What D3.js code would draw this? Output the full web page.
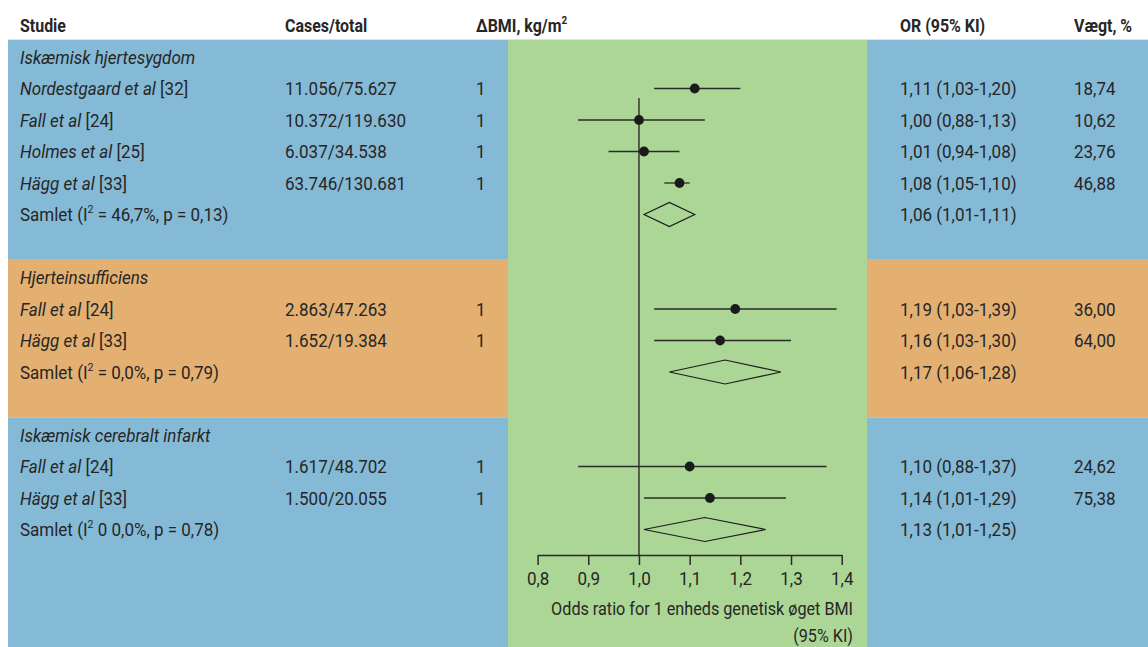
<!DOCTYPE html>
<html><head><meta charset="utf-8">
<script src="https://cdn.jsdelivr.net/npm/d3@7"></script>
<style>
html,body{margin:0;padding:0;background:#fff;}
svg{display:block;}
text{font-family:Roboto,"Noto Sans",sans-serif;fill:#262626;}
</style></head>
<body>
<svg id="c" width="1148" height="647"></svg>
<script>
// ---------- data ----------
const headers = ["Studie","Cases/total","\u0394BMI, kg/m","OR (95% KI)","Vægt, %"];
const groupLabels = ["Iskæmisk hjertesygdom","Hjerteinsufficiens","Iskæmisk cerebralt infarkt"];
const studyAuthors = ["Nordestgaard et al","Fall et al","Holmes et al","Hägg et al","Fall et al","Hägg et al","Fall et al","Hägg et al"];
const studyRefs = ["[32]","[24]","[25]","[33]","[24]","[33]","[24]","[33]"];
const studyGroup = [0,0,0,0,1,1,2,2];
const cases = ["11.056/75.627","10.372/119.630","6.037/34.538","63.746/130.681","2.863/47.263","1.652/19.384","1.617/48.702","1.500/20.055"];
const deltaBMI = [1,1,1,1,1,1,1,1];
const orEst = [1.11,1.00,1.01,1.08,1.19,1.16,1.10,1.14];
const ciLow = [1.03,0.88,0.94,1.05,1.03,1.03,0.88,1.01];
const ciHigh = [1.20,1.13,1.08,1.10,1.39,1.30,1.37,1.29];
const weights = [18.74,10.62,23.76,46.88,36.00,64.00,24.62,75.38];
const pooledI2Text = [" = 46,7%"," = 0,0%"," 0 0,0%"];
const pooledP = ["0,13","0,79","0,78"];
const pooledEst = [1.06,1.17,1.13];
const pooledLow = [1.01,1.06,1.01];
const pooledHigh = [1.11,1.28,1.25];
const xTicks = [0.8,0.9,1.0,1.1,1.2,1.3,1.4];
const axisTitle = ["Odds ratio for 1 enheds genetisk øget BMI","(95% KI)"];

// ---------- layout ----------
const W = 1148, H = 647;
const FS = 19, SX = 0.895;      // body text
const HFS = 19, HSX = 0.84;     // header text
const colX = {study:20, cases:285, bmi:476, or:900, w:1074};
const panelLeft = 8, panelTop = 39.5;
const greenL = 508, greenR = 867;
const axisY = 555, refTop = 98;
const colors = {blue:"#85bad7", orange:"#e3b072", green:"#acd695", ink:"#262626"};

const loc = d3.formatLocale({decimal:",", thousands:".", grouping:[3], currency:["",""]});
const f2 = loc.format(".2f"), f1 = loc.format(".1f");

const rowY = d3.scaleLinear().domain([0,1]).range([57,88.5]);
const x = d3.scaleLinear().domain([0.8,1.4]).range([537.6,841.7]);

// row assignment
const groupStart = [], pooledRow = [], studyRow = [];
let r = 0;
groupLabels.forEach((g,gi)=>{
  groupStart[gi] = r; r++;
  studyGroup.forEach((sg,si)=>{ if(sg===gi){ studyRow[si]=r; r++; } });
  pooledRow[gi] = r; r += 2;
});

const svg = d3.select("#c");

// backgrounds
const bands = groupLabels.map((g,gi)=>({
  y0: gi===0 ? panelTop : rowY(groupStart[gi]-0.56),
  y1: gi===groupLabels.length-1 ? H : rowY(groupStart[gi+1]-0.56),
  c: gi===1 ? colors.orange : colors.blue
}));
svg.selectAll("rect.band").data(bands).join("rect").attr("class","band")
  .attr("x",panelLeft).attr("y",d=>d.y0).attr("width",W-panelLeft).attr("height",d=>d.y1-d.y0)
  .attr("fill",d=>d.c);
svg.append("rect").attr("x",greenL).attr("y",panelTop).attr("width",greenR-greenL).attr("height",H-panelTop)
  .attr("fill",colors.green);
svg.append("line").attr("x1",panelLeft).attr("x2",W).attr("y1",panelTop).attr("y2",panelTop)
  .attr("stroke","#d4e2ea").attr("stroke-width",1);

// text helper
function txt(px, py, opts={}){
  const fs = opts.fs||FS, sx = opts.sx||SX;
  const t = svg.append("text")
    .attr("transform",`translate(${px},${py}) scale(${sx},1)`)
    .attr("dy","0.36em")
    .style("font-size",fs+"px")
    .attr("text-anchor",opts.anchor||"start");
  if(opts.bold) t.style("font-weight","700");
  if(opts.italic) t.style("font-style","italic");
  t.node().__fs = fs;
  return t;
}
// superscript; returns the vertical offset to restore on the next tspan
function sup(t, s){
  const fs = t.node().__fs, up = 0.42*fs;
  t.append("tspan").attr("dy",-up).style("font-size",(0.62*fs)+"px").text(s);
  return up;
}

// headers
const hy = 25;
const H_ = {bold:true, fs:HFS, sx:HSX};
txt(colX.study,hy,H_).text(headers[0]);
txt(colX.cases,hy,H_).text(headers[1]);
{ const t = txt(colX.bmi,hy,H_); t.append("tspan").text(headers[2]); sup(t,"2"); }
txt(colX.or,hy,H_).text(headers[3]);
txt(colX.w,hy,H_).text(headers[4]);

// group headings
groupLabels.forEach((g,gi)=>{ txt(colX.study,rowY(groupStart[gi]),{italic:true}).text(g); });

// study rows
studyAuthors.forEach((a,i)=>{
  const y = rowY(studyRow[i]);
  const t = txt(colX.study,y);
  t.append("tspan").style("font-style","italic").text(a);
  t.append("tspan").text(" "+studyRefs[i]);
  txt(colX.cases,y).text(cases[i]);
  txt(colX.bmi,y).text(deltaBMI[i]);
  txt(colX.or,y).text(`${f2(orEst[i])} (${f2(ciLow[i])}-${f2(ciHigh[i])})`);
  txt(colX.w,y).text(f2(weights[i]));
});

// pooled rows
groupLabels.forEach((g,gi)=>{
  const y = rowY(pooledRow[gi]);
  const t = txt(colX.study,y);
  t.append("tspan").text("Samlet (I");
  const up = sup(t,"2");
  t.append("tspan").attr("dy",up).text(`${pooledI2Text[gi]}, p = ${pooledP[gi]})`);
  txt(colX.or,y).text(`${f2(pooledEst[gi])} (${f2(pooledLow[gi])}-${f2(pooledHigh[gi])})`);
});

// reference line at OR = 1
svg.append("line").attr("x1",x(1)).attr("x2",x(1)).attr("y1",refTop).attr("y2",axisY)
  .attr("stroke","#3b4436").attr("stroke-width",1.6);

// CIs + points
const studies = orEst.map((e,i)=>({e,lo:ciLow[i],hi:ciHigh[i],y:rowY(studyRow[i])}));
svg.selectAll("line.ci").data(studies).join("line").attr("class","ci")
  .attr("x1",d=>x(d.lo)).attr("x2",d=>x(d.hi)).attr("y1",d=>d.y).attr("y2",d=>d.y)
  .attr("stroke","#2a2a2a").attr("stroke-width",1.3);
svg.selectAll("circle.pt").data(studies).join("circle").attr("class","pt")
  .attr("cx",d=>x(d.e)).attr("cy",d=>d.y).attr("r",4.9).attr("fill","#1b1b1b");

// diamonds
const pooled = pooledEst.map((e,i)=>({e,lo:pooledLow[i],hi:pooledHigh[i],y:rowY(pooledRow[i])}));
const dh = 12;
svg.selectAll("path.dia").data(pooled).join("path").attr("class","dia")
  .attr("d",d=>`M${x(d.lo)},${d.y}L${x(d.e)},${d.y-dh}L${x(d.hi)},${d.y}L${x(d.e)},${d.y+dh}Z`)
  .attr("fill","none").attr("stroke","#1b1b1b").attr("stroke-width",1.2);

// axis
const ax = d3.axisBottom(x).tickValues(xTicks).tickSize(10).tickSizeOuter(0).tickPadding(7).tickFormat(f1);
const ag = svg.append("g").attr("transform",`translate(0,${axisY})`).call(ax);
ag.select(".domain").attr("stroke","#2a2a2a").attr("stroke-width",1.5);
ag.selectAll(".tick line").attr("stroke","#2a2a2a").attr("stroke-width",1.5);
ag.selectAll(".tick text").attr("font-family",null).style("font-size",FS+"px").attr("fill",colors.ink)
  .attr("transform",`scale(${SX},1)`);

txt(853,608,{anchor:"end", fs:18.5, sx:0.875}).text(axisTitle[0]);
txt(853,635,{anchor:"end", fs:18.5, sx:0.875}).text(axisTitle[1]);
</script>
</body></html>
